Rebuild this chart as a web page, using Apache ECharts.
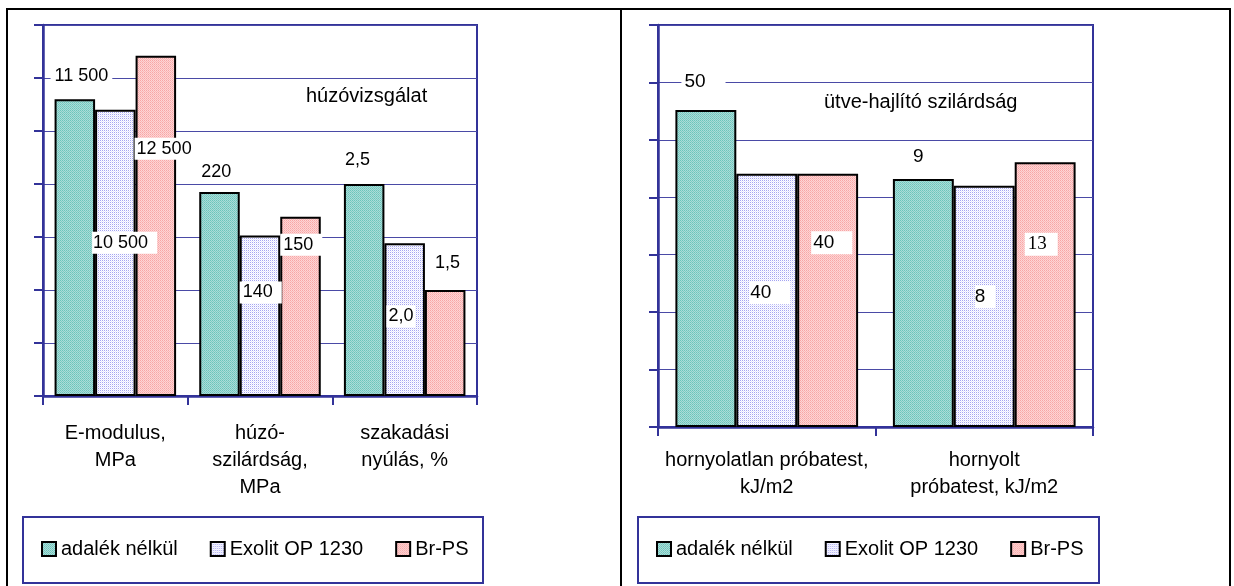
<!DOCTYPE html>
<html>
<head>
<meta charset="utf-8">
<script src="https://cdn.jsdelivr.net/npm/echarts@6/dist/echarts.min.js"></script>
<style>
html,body{margin:0;padding:0;background:#fff;}
#c{width:1234px;height:586px;}
</style>
</head>
<body>
<div id="c"></div>
<script>
// ---- data ----
const seriesNames = ['adalék nélkül', 'Exolit OP 1230', 'Br-PS'];
const leftCategories = ['E-modulus,\nMPa', 'húzó-\nszilárdság,\nMPa', 'szakadási\nnyúlás, %'];
const rightCategories = ['hornyolatlan próbatest,\nkJ/m2', 'hornyolt\npróbatest, kJ/m2'];
// relative bar heights (normalised scale, 0..7)
const leftNelkul = [5.6, 3.85, 4.0];
const leftExolit = [5.4, 3.03, 2.88];
const leftBrPS = [6.42, 3.38, 2.0];
const rightNelkul = [5.52, 4.32];
const rightExolit = [4.41, 4.2];
const rightBrPS = [4.41, 4.61];
// printed values
const leftNelkulText = ['11 500', '220', '2,5'];
const leftExolitText = ['10 500', '140', '2,0'];
const leftBrPSText = ['12 500', '150', '1,5'];
const rightNelkulText = ['50', '9'];
const rightExolitText = ['40', '8'];
const rightBrPSText = ['40', '13'];
const leftTitle = 'húzóvizsgálat';
const rightTitle = 'ütve-hajlító szilárdság';

// ---- label placement styles: [box left rel. to bar left, centre y rel. to bar top, padL, padR] ----
const lpLeftNelkul = [[-4, -23, 4, 4], [-1, -20, 3, 9], [-2, -24, 3, 9]];
const lpLeftExolit = [[-3, 133, 1, 9], [0, 57, 3, 9], [2, 73, 2, 2]];
const lpLeftBrPS = [[-1, 93, 2, 1], [0, 28, 3, 9], [7, -27, 3, 9]];
const lpRightNelkul = [[6, -28, 3, 20], [17, -22, 3, 3]];
const lpRightExolit = [[13, 119, 1, 19], [21, 111, 0, 10]];
const lpRightBrPS = [[14, 69, 2, 18], [10, 82, 3, 11]];

function pattern(cells) {
  const cv = document.createElement('canvas');
  cv.width = 2; cv.height = 2;
  const ctx = cv.getContext('2d');
  ctx.fillStyle = cells[0]; ctx.fillRect(0, 0, 1, 1);
  ctx.fillStyle = cells[1]; ctx.fillRect(1, 0, 1, 1);
  ctx.fillStyle = cells[2]; ctx.fillRect(0, 1, 1, 1);
  ctx.fillStyle = cells[3]; ctx.fillRect(1, 1, 1, 1);
  return { image: cv, repeat: 'repeat' };
}
const fills = [
  pattern(['#6fc2ba', '#a6e0da', '#a6e0da', '#86c6c0']),
  pattern(['#a4a4f2', '#ffffff', '#ffffff', '#e4e4ff']),
  pattern(['#f6a6a6', '#ffd6d6', '#ffd2d2', '#f8b8b8'])
];

const NAVY = '#333399';
const FONT = '"Liberation Sans", Arial, sans-serif';

function makeSeries(name, idx, axisIdx, values, texts, lps, fontSize, fontFamilies) {
  return {
    type: 'bar',
    name: name,
    xAxisIndex: axisIdx,
    yAxisIndex: axisIdx,
    barGap: '0%',
    barCategoryGap: '16%',
    itemStyle: { color: fills[idx], borderColor: '#000', borderWidth: 2 },
    data: values.map((v, i) => ({
      value: v,
      label: {
        show: true,
        position: [lps[i][0], lps[i][1]],
        padding: [2, lps[i][3], 2, lps[i][2]],
        fontFamily: fontFamilies ? fontFamilies[i] : FONT
      }
    })),
    label: {
      show: true,
      formatter: p => texts[p.dataIndex],
      align: 'left',
      verticalAlign: 'middle',
      color: '#000',
      fontSize: fontSize,
      fontFamily: FONT,
      backgroundColor: '#fff'
    },
    z: 2
  };
}

const valueAxis = (gi) => ({
  type: 'value',
  gridIndex: gi,
  min: 0, max: 7, interval: 1,
  axisLine: { show: true, lineStyle: { color: NAVY, width: 2.5 } },
  axisTick: { show: true, inside: false, length: 9, lineStyle: { color: NAVY, width: 2 } },
  axisLabel: { show: false },
  splitLine: { show: true, lineStyle: { color: '#4a4aa6', width: 1.2 } }
});
const catAxis = (gi, data, margin) => ({
  type: 'category',
  gridIndex: gi,
  data: data,
  axisLine: { show: true, lineStyle: { color: NAVY, width: 2.5 } },
  axisTick: { show: true, length: 9, lineStyle: { color: NAVY, width: 2 } },
  axisLabel: { interval: 0, color: '#000', fontSize: 20, lineHeight: 27, margin: margin, fontFamily: FONT }
});

const chart = echarts.init(document.getElementById('c'), null, { renderer: 'canvas' });
chart.setOption({
  animation: false,
  backgroundColor: '#fff',
  textStyle: { fontFamily: FONT },
  grid: [
    { left: 43, top: 25, width: 434, height: 371, show: true, borderColor: NAVY, borderWidth: 2, backgroundColor: 'transparent' },
    { left: 658, top: 25, width: 435, height: 402, show: true, borderColor: NAVY, borderWidth: 2, backgroundColor: 'transparent' }
  ],
  xAxis: [catAxis(0, leftCategories, 24), catAxis(1, rightCategories, 20)],
  yAxis: [valueAxis(0), valueAxis(1)],
  legend: [
    { data: seriesNames, left: 41, top: 539, padding: 0, itemWidth: 14, itemHeight: 14, itemGap: 32, icon: 'rect', selectedMode: false,
      textStyle: { fontSize: 20, color: '#000', fontFamily: FONT } },
    { data: seriesNames, left: 656, top: 539, padding: 0, itemWidth: 14, itemHeight: 14, itemGap: 32, icon: 'rect', selectedMode: false,
      textStyle: { fontSize: 20, color: '#000', fontFamily: FONT } }
  ],
  graphic: [
    { type: 'rect', shape: { x: 7, y: 9, width: 1223, height: 600 }, style: { fill: 'none', stroke: '#000', lineWidth: 2 }, silent: true },
    { type: 'line', shape: { x1: 621, y1: 9, x2: 621, y2: 600 }, style: { stroke: '#000', lineWidth: 2 }, silent: true },
    { type: 'rect', shape: { x: 23, y: 517, width: 460, height: 66 }, style: { fill: 'none', stroke: NAVY, lineWidth: 2 }, silent: true, z: -1 },
    { type: 'rect', shape: { x: 638, y: 517, width: 461, height: 66 }, style: { fill: 'none', stroke: NAVY, lineWidth: 2 }, silent: true, z: -1 },
    { type: 'text', left: 306, top: 86, style: { text: leftTitle, fontSize: 20, fill: '#000', font: '20px ' + FONT }, silent: true },
    { type: 'text', left: 824, top: 92, style: { text: rightTitle, fontSize: 20, fill: '#000', font: '20px ' + FONT }, silent: true }
  ],
  series: [
    makeSeries(seriesNames[0], 0, 0, leftNelkul, leftNelkulText, lpLeftNelkul, 18),
    makeSeries(seriesNames[1], 1, 0, leftExolit, leftExolitText, lpLeftExolit, 18),
    makeSeries(seriesNames[2], 2, 0, leftBrPS, leftBrPSText, lpLeftBrPS, 18),
    makeSeries(seriesNames[0], 0, 1, rightNelkul, rightNelkulText, lpRightNelkul, 19),
    makeSeries(seriesNames[1], 1, 1, rightExolit, rightExolitText, lpRightExolit, 19),
    makeSeries(seriesNames[2], 2, 1, rightBrPS, rightBrPSText, lpRightBrPS, 19, [FONT, '"Liberation Serif", "Times New Roman", serif'])
  ]
});
</script>
</body>
</html>
